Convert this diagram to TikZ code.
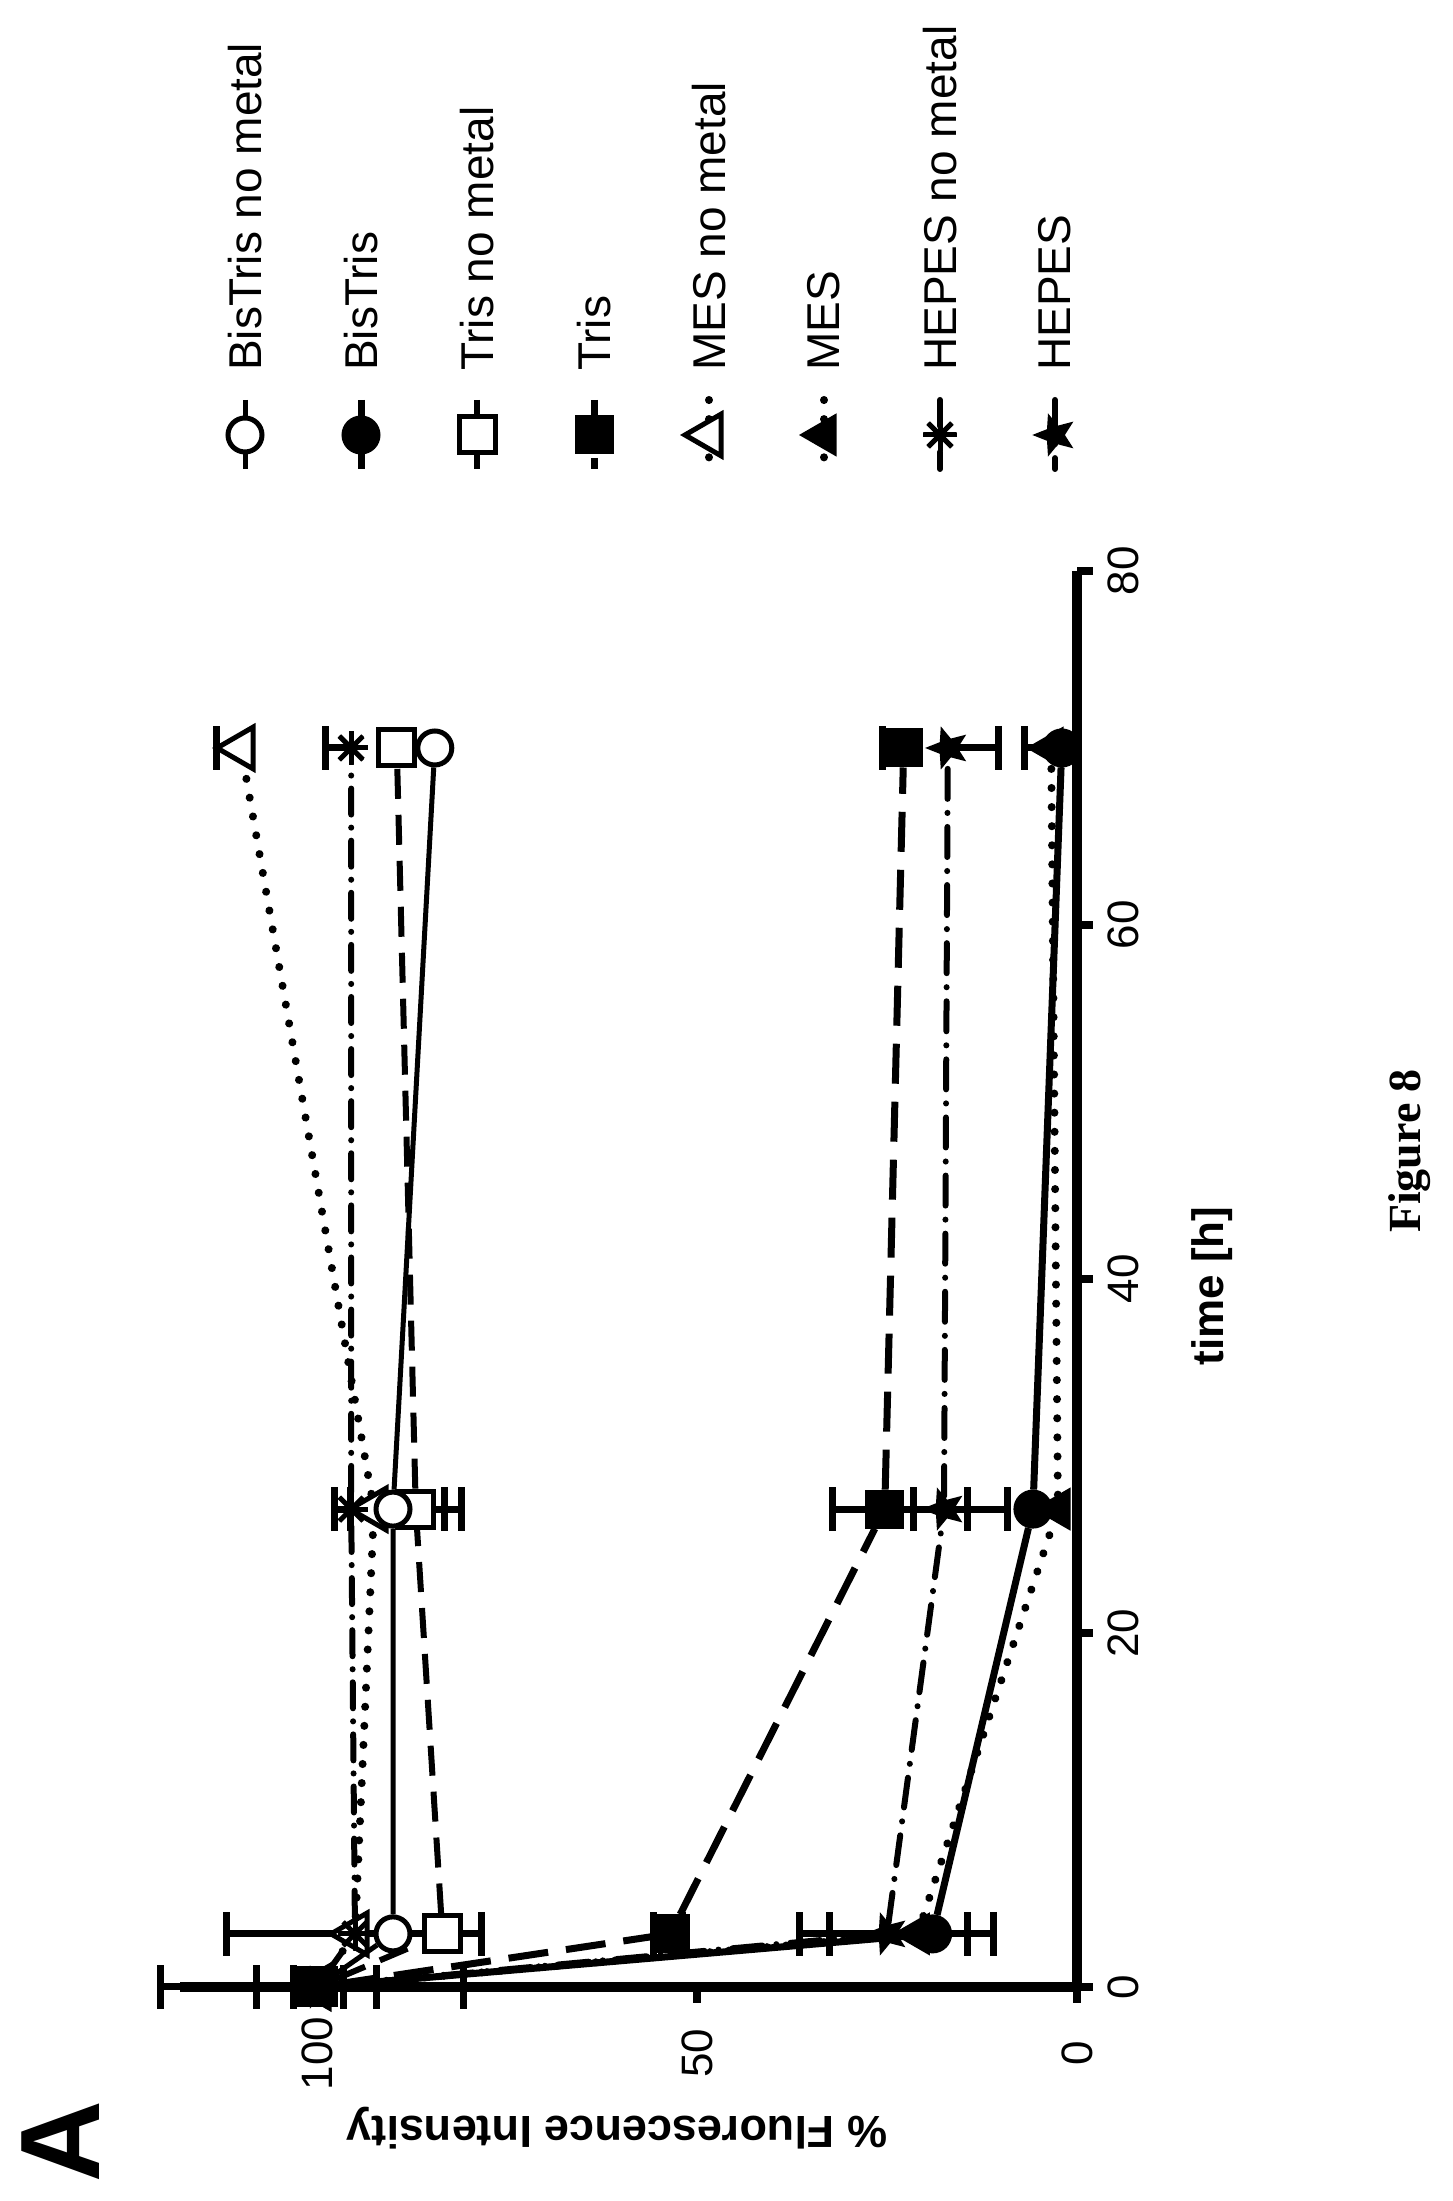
\documentclass[tikz,border=0pt]{standalone}
\usepackage{fontspec}
\setmainfont{Liberation Sans}
\newfontfamily\serifb{Liberation Serif}
\usetikzlibrary{shapes.geometric,arrows.meta}
\tikzset{
  ocirc/.style={circle,draw,line width=5pt,fill=white,minimum size=34pt,inner sep=0pt},
  fcirc/.style={circle,draw,line width=3pt,fill=black,minimum size=36pt,inner sep=0pt},
  osq/.style={rectangle,draw,line width=5pt,fill=white,minimum size=36pt,inner sep=0pt},
  fsq/.style={rectangle,draw,line width=3pt,fill=black,minimum size=36pt,inner sep=0pt},
  otri/.style={regular polygon,regular polygon sides=3,draw,line width=5pt,fill=white,minimum size=48pt,inner sep=0pt,rotate=90},
  ftri/.style={regular polygon,regular polygon sides=3,draw,line width=3pt,fill=black,minimum size=44pt,inner sep=0pt,rotate=90},
  aster/.style={circle,minimum size=34pt,inner sep=0pt,path picture={\foreach \a in {0,45,...,315}\draw[line width=5pt] (path picture bounding box.center) -- ++(\a:17pt);}},
  fstar/.style={star,star points=5,star point ratio=2.3,fill=black,draw,line width=2pt,minimum size=40pt,inner sep=0pt,rotate=90},
  lbn/.style={line width=5pt},
  lb/.style={line width=7pt},
  ltn/.style={line width=6pt,dash pattern=on 30pt off 16pt},
  lt/.style={line width=7pt,dash pattern=on 40pt off 18pt},
  lmn/.style={line width=8pt,line cap=round,dash pattern=on 0.1pt off 19pt},
  lm/.style={line width=8pt,line cap=round,dash pattern=on 0.1pt off 19pt},
  lhn/.style={line width=6pt,line cap=round,dash pattern=on 26pt off 13pt on 0.1pt off 13pt},
  lh/.style={line width=6pt,line cap=round,dash pattern=on 30pt off 14pt on 0.1pt off 14pt},
  axis/.style={line width=10pt},
  eb/.style={line width=7pt,{Bar[width=44pt,line width=7pt]}-{Bar[width=44pt,line width=7pt]}},
  ebs/.style={line width=7pt,{Bar[width=44pt,line width=7pt]}-},
  lab/.style={font=\fontsize{44}{48}\selectfont,inner sep=0pt},
  leg/.style={font=\fontsize{46}{50}\selectfont,inner sep=0pt,rotate=90,anchor=west},
}
\begin{document}
\begin{tikzpicture}
\useasboundingbox (0,0) rectangle (1452pt,2201pt);
\fill[white] (0,0) rectangle (1452pt,2201pt);
\begin{scope}[shift={(1077pt,214pt)},x={(0pt,17.7pt)},y={(-7.6pt,0pt)}]
  % axes
  \draw[axis] (0,0) -- (80,0);
  \draw[axis] (0,0) -- (0,118);
  \foreach \t in {0,20,40,60,80} {\draw[line width=8pt] (\t,0) -- ++(0,-2.1);
     \node[lab,rotate=90] (tl\t) at (\t,-6.1) {\t};}
  \foreach \v in {0,50,100} {\draw[line width=8pt] (0,\v) -- ++(-0.9,0);
     \node[lab,rotate=90] (vl\v) at (-3.75,\v) {\v};}
  % error bars
  \draw[eb] (0,121) -- (0,80.3);
  \draw[eb] (0,108.4) -- (0,91.7);
  \draw[eb] (0,103.6) -- (0,96);
  \draw[eb] (3,112.4) -- (3,77.9);
  \draw[eb] (3,37) -- (3,10.5);
  \draw[eb] (3,33) -- (3,14);
  \draw[eb] (3,56.2) -- (3,51.4);
  \draw[eb] (27,98.2) -- (27,80.5);
  \draw[eb] (27,96) -- (27,82.7);
  \draw[eb] (27,32.6) -- (27,8.7);
  \draw[eb] (27,22) -- (27,14);
  \draw[ebs] (70,113.7) -- (70,110);
  \draw[ebs] (70,99.3) -- (70,95);
  \draw[ebs] (70,26) -- (70,22);
  \draw[ebs] (70,9.9) -- (70,17);
  \draw[ebs] (70,7.4) -- (70,3.6);
  % markers
  \foreach \i/\t/\v in {0/0/100,1/3/95,2/27/92.5,3/70/110} \node[otri] (mn\i) at (\t,\v) {};
  \foreach \i/\t/\v in {0/0/100,1/3/95,2/27/95.5,3/70/95.5} \node[aster] (hn\i) at (\t,\v) {};
  \foreach \i/\t/\v in {0/0/100,1/3/83.5,2/27/87,3/70/89.5} \node[osq] (tn\i) at (\t,\v) {};
  \foreach \i/\t/\v in {0/0/100,1/3/90,2/27/90,3/70/84.5} \node[ocirc] (bn\i) at (\t,\v) {};
  \foreach \i/\t/\v in {0/0/100,1/3/53.5,2/27/25.3,3/70/22.8} \node[fsq] (tf\i) at (\t,\v) {};
  \foreach \i/\t/\v in {0/0/100,1/3/25,2/27/17.5,3/70/17} \node[fstar] (hf\i) at (\t,\v) {};
  \foreach \i/\t/\v in {0/0/100,1/3/21,2/27/2.5,3/70/3.4} \node[ftri] (mf\i) at (\t,\v) {};
  \foreach \i/\t/\v in {0/0/100,1/3/19,2/27/5.8,3/70/2} \node[fcirc] (bf\i) at (\t,\v) {};
  % lines
  \draw[lbn] (bn0) -- (bn1) -- (bn2) -- (bn3);
  \draw[lb] (bf0) -- (bf1) -- (bf2) -- (bf3);
  \draw[ltn] (tn0) -- (tn1) -- (tn2) -- (tn3);
  \draw[lt] (tf0) -- (tf1) -- (tf2) -- (tf3);
  \draw[lmn] (mn0) -- (mn1) -- (mn2) -- (mn3);
  \draw[lm] (mf0) -- (mf1) -- (mf2) -- (mf3);
  \draw[lhn] (hn0) -- (hn1) -- (hn2) -- (hn3);
  \draw[lh] (hf0) -- (hf1) -- (hf2) -- (hf3);
\end{scope}
% axis titles
\node[font=\fontsize{44}{48}\selectfont\bfseries,rotate=90,inner sep=0pt] (tt) at (1212pt,915pt) {time [h]};
\node[font=\fontsize{45}{48}\selectfont\bfseries,rotate=180,inner sep=0pt] (vt) at (617pt,73pt) {\% Fluorescence Intensity};
\node[font=\fontsize{113}{120}\selectfont\bfseries,rotate=90,inner sep=0pt] (A) at (61pt,59pt) {A};
\node[font=\fontsize{46}{50}\selectfont\serifb\bfseries,rotate=90,inner sep=0pt] (fig) at (1410pt,1050pt) {Figure 8};
% legend
\foreach \x/\ls/\mk/\txt/\n in {245/lbn/ocirc/BisTris no metal/a,361/lb/fcirc/BisTris/b,477/ltn/osq/Tris no metal/c,594/lt/fsq/Tris/d,709/lmn/otri/MES no metal/e,824/lm/ftri/MES/f,940/lhn/aster/HEPES no metal/g,1055/lh/fstar/HEPES/h} {
  \coordinate (la\n) at (\x pt,1801pt);
  \coordinate (lb\n) at (\x pt,1732pt);
  \draw[\ls] (la\n) -- (lb\n);
  \node[\mk] (lm\n) at (\x pt,1766pt) {};
  \node[leg] (lt\n) at (\x pt,1830pt) {\txt};
}
\end{tikzpicture}
\end{document}
